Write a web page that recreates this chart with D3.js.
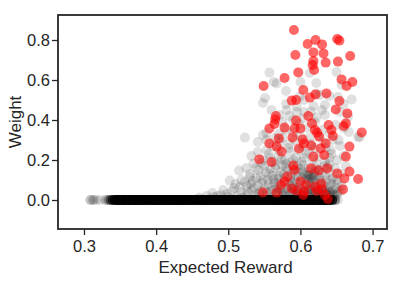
<!DOCTYPE html>
<html><head><meta charset="utf-8">
<script src="https://cdn.jsdelivr.net/npm/d3@7"></script>
<style>body{margin:0;background:#fff}svg{display:block}text{font-family:"Liberation Sans",Arial,sans-serif;fill:#262626}</style>
</head><body><svg id="c" width="407" height="284"></svg>
<script>
const xTicks = [0.3, 0.4, 0.5, 0.6, 0.7];
const yTicks = [0.0, 0.2, 0.4, 0.6, 0.8];
const xLabel = "Expected Reward";
const yLabel = "Weight";

// near-zero weights: x position and number of overlapping points
const bandX = [0.309,0.313,0.317,0.322,0.330,0.334,0.337,0.340,0.343,0.346,0.350,0.355,0.360,0.365,0.370,0.375,0.380,0.385,0.390,0.395,0.400,0.405,0.410,0.415,0.420,0.425,0.430,0.435,0.440,0.445,0.450,0.455,0.460,0.465,0.470,0.475,0.480,0.485,0.490,0.495,0.500,0.505,0.510,0.515,0.520,0.525,0.530,0.535,0.540,0.545,0.550,0.555,0.560,0.565,0.570,0.575,0.580,0.585,0.590,0.595,0.600,0.605,0.610,0.615,0.620,0.625,0.630,0.635,0.640,0.644,0.648,0.652];
const bandN = [2,2,1,1,2,3,5,8,12,16,22,25,25,25,25,25,25,25,25,25,25,25,25,25,25,25,25,25,25,25,25,25,25,25,25,25,25,25,25,25,25,25,25,25,25,25,25,25,25,25,25,25,25,25,25,25,25,25,25,25,25,25,25,25,25,25,25,25,18,10,4,1];

// other (grey) points: [expected reward, weight]
const greyPts = [
[0.557,0.637],[0.563,0.59],[0.567,0.583],[0.58,0.545],[0.551,0.51],[0.548,0.485],[0.60,0.59],[0.613,0.635],[0.622,0.585],[0.627,0.525],[0.65,0.64],[0.657,0.575],[0.671,0.503],[0.652,0.515],[0.599,0.517],[0.622,0.533],[0.634,0.475],[0.63,0.45],[0.56,0.45],[0.581,0.45],[0.595,0.467],[0.595,0.44],[0.571,0.425],[0.615,0.442],[0.622,0.413],[0.604,0.408],[0.634,0.425],[0.641,0.333],[0.649,0.375],[0.666,0.417],[0.68,0.317],[0.682,0.313],[0.523,0.312],[0.541,0.29],[0.553,0.335],[0.548,0.325],[0.585,0.42],[0.59,0.40],[0.575,0.39],[0.598,0.38],[0.61,0.36],[0.58,0.35],[0.57,0.33],[0.645,0.30],[0.655,0.27],[0.66,0.36],[0.667,0.34],[0.618,0.47],[0.605,0.5],[0.64,0.52],[0.66,0.48],
[0.553,0.30],[0.562,0.27],[0.572,0.29],[0.583,0.26],[0.592,0.30],[0.603,0.27],[0.612,0.31],[0.62,0.26],[0.632,0.29],[0.642,0.25],[0.653,0.30],[0.575,0.31],[0.598,0.25],[0.625,0.32],
[0.532,0.22],[0.541,0.24],[0.548,0.2],[0.556,0.23],[0.563,0.19],[0.57,0.22],[0.578,0.2],[0.586,0.24],[0.594,0.21],[0.601,0.19],[0.608,0.23],[0.617,0.2],[0.626,0.22],[0.634,0.19],[0.643,0.23],[0.651,0.2],[0.66,0.22],[0.553,0.25],[0.58,0.18],[0.612,0.24],[0.64,0.21],
[0.515,0.147],[0.525,0.16],[0.535,0.183],[0.53,0.13],[0.542,0.15],[0.55,0.17],[0.557,0.13],[0.565,0.16],[0.572,0.14],[0.58,0.16],[0.588,0.13],[0.596,0.17],[0.603,0.14],[0.611,0.16],[0.618,0.13],[0.626,0.15],[0.633,0.17],[0.641,0.14],[0.648,0.16],[0.656,0.13],[0.663,0.17],[0.545,0.12],[0.575,0.175],[0.59,0.155],[0.612,0.125],[0.615,0.115],[0.608,0.12],[0.62,0.12],
[0.502,0.097],[0.51,0.08],[0.518,0.1],[0.526,0.07],[0.534,0.095],[0.541,0.075],[0.548,0.1],[0.556,0.08],[0.563,0.105],[0.57,0.085],[0.578,0.11],[0.585,0.075],[0.592,0.1],[0.6,0.08],[0.607,0.105],[0.614,0.085],[0.621,0.1],[0.628,0.075],[0.636,0.095],[0.643,0.08],[0.65,0.1],[0.657,0.07],[0.53,0.115],[0.56,0.065],[0.59,0.065],[0.62,0.065],[0.64,0.065],[0.645,0.11],
[0.47,0.02],[0.478,0.035],[0.485,0.02],[0.493,0.05],[0.498,0.03],[0.505,0.045],[0.512,0.02],[0.518,0.04],[0.525,0.025],[0.532,0.05],[0.538,0.03],[0.545,0.045],[0.552,0.02],[0.558,0.04],[0.565,0.025],[0.571,0.05],[0.577,0.03],[0.584,0.045],[0.59,0.02],[0.596,0.04],[0.603,0.025],[0.609,0.05],[0.615,0.03],[0.621,0.045],[0.627,0.02],[0.633,0.04],[0.639,0.025],[0.645,0.05],[0.651,0.03],[0.656,0.045],[0.58,0.015],[0.6,0.012],[0.62,0.015],[0.64,0.012],[0.61,0.035],[0.63,0.055],[0.59,0.055],[0.57,0.035],[0.55,0.055],[0.64,0.035],[0.648,0.02],
[0.60,0.03],[0.61,0.02],[0.62,0.03],[0.63,0.025],[0.635,0.045],[0.625,0.04],[0.615,0.05],[0.605,0.045],[0.595,0.03],[0.585,0.03],[0.642,0.04],[0.646,0.03],
[0.558,0.21],[0.566,0.175],[0.574,0.205],[0.583,0.15],[0.587,0.19],[0.597,0.14],[0.604,0.175],[0.613,0.145],[0.622,0.18],[0.63,0.135],[0.638,0.165],[0.546,0.185],[0.538,0.16],[0.552,0.14],[0.561,0.12],[0.569,0.105],[0.577,0.13],[0.586,0.11],[0.594,0.12],[0.602,0.11],[0.61,0.1],[0.618,0.09],[0.626,0.11],[0.634,0.12],[0.642,0.1],[0.652,0.085],[0.523,0.09],[0.531,0.08],[0.539,0.11],[0.547,0.085],[0.555,0.1],[0.564,0.085],[0.573,0.06],[0.582,0.09],[0.598,0.06],[0.606,0.065],[0.614,0.07],[0.624,0.055],[0.632,0.07],[0.638,0.05],[0.649,0.06],
[0.508,0.06],[0.516,0.065],[0.527,0.04],[0.535,0.06],[0.543,0.035],[0.553,0.04],[0.562,0.05],[0.568,0.06],[0.575,0.045],[0.582,0.06],[0.588,0.04],[0.597,0.05],[0.606,0.035],[0.612,0.055],[0.619,0.04],[0.628,0.035],[0.636,0.03],[0.644,0.02],[0.652,0.04],[0.49,0.025],[0.48,0.015],[0.5,0.015],[0.46,0.012],[0.52,0.012],[0.54,0.015],[0.56,0.015],[0.575,0.02],[0.595,0.02],[0.612,0.012],[0.63,0.012],[0.622,0.02],[0.603,0.015],
[0.61,0.125],[0.617,0.11],[0.605,0.13],[0.613,0.105],[0.62,0.14],[0.595,0.09],[0.628,0.095],[0.588,0.085],[0.57,0.12],[0.558,0.155],[0.6,0.155],[0.622,0.155],[0.64,0.18],[0.59,0.2],[0.605,0.21],[0.57,0.25],[0.585,0.28],[0.615,0.28],[0.635,0.26],[0.6,0.32],[0.565,0.31],[0.59,0.34],[0.63,0.35],[0.62,0.39],[0.605,0.44],[0.58,0.48],[0.655,0.44]
];

// highlighted (red) points: [expected reward, weight]
const redPts = [
[0.591,0.85],[0.593,0.725],[0.610,0.78],[0.621,0.80],[0.630,0.778],[0.618,0.738],[0.618,0.695],[0.617,0.675],[0.619,0.65],[0.632,0.733],[0.635,0.687],[0.651,0.805],[0.654,0.797],[0.652,0.692],[0.669,0.72],
[0.597,0.638],[0.578,0.61],[0.549,0.57],[0.604,0.55],[0.657,0.603],[0.664,0.57],[0.672,0.59],[0.588,0.497],[0.594,0.50],[0.613,0.512],[0.621,0.528],[0.636,0.533],[0.654,0.495],[0.649,0.453],[0.665,0.433],
[0.566,0.42],[0.565,0.403],[0.564,0.38],[0.557,0.358],[0.578,0.362],[0.594,0.397],[0.592,0.358],[0.600,0.358],[0.611,0.42],[0.616,0.383],[0.620,0.35],[0.623,0.337],[0.626,0.317],[0.639,0.375],[0.643,0.35],[0.645,0.32],[0.660,0.37],[0.663,0.383],[0.685,0.338],
[0.557,0.283],[0.570,0.308],[0.567,0.267],[0.574,0.242],[0.589,0.313],[0.603,0.303],[0.605,0.283],[0.598,0.258],[0.615,0.272],[0.628,0.258],[0.635,0.283],[0.633,0.225],[0.618,0.217],[0.668,0.267],[0.663,0.217],
[0.543,0.203],[0.560,0.19],[0.590,0.172],[0.592,0.15],[0.615,0.158],[0.625,0.147],[0.637,0.158],[0.651,0.133],[0.668,0.142],[0.661,0.108],[0.680,0.105],[0.582,0.117],[0.578,0.092],[0.573,0.075],[0.600,0.092],[0.608,0.075],[0.629,0.083],
[0.567,0.037],[0.548,0.038],[0.588,0.058],[0.595,0.047],[0.605,0.042],[0.604,0.025],[0.623,0.045],[0.634,0.025],[0.638,0.005],[0.659,0.053],[0.620,0.067],[0.630,0.053]
];

const svg = d3.select("#c");
const L = 58, R = 387, T = 15, B = 229;
const x = d3.scaleLinear().domain([0.264, 0.72]).range([L, R]);
const y = d3.scaleLinear().domain([-0.145, 0.925]).range([B, T]);
const r = 5;

const band = [];
bandX.forEach((bx, i) => { for (let k = 0; k < bandN[i]; k++) band.push([bx, 0]); });
const gP = svg.append("g");
gP.selectAll("circle.b").data(band).join("circle").attr("class","b")
  .attr("cx", d => x(d[0])).attr("cy", d => y(d[1])).attr("r", r)
  .attr("fill", "#000").attr("fill-opacity", 0.12);
gP.selectAll("circle.g").data(greyPts).join("circle").attr("class","g")
  .attr("cx", d => x(d[0])).attr("cy", d => y(d[1])).attr("r", r)
  .attr("fill", "#000").attr("fill-opacity", 0.12);
gP.selectAll("circle.r").data(redPts).join("circle").attr("class","r")
  .attr("cx", d => x(d[0])).attr("cy", d => y(d[1])).attr("r", r)
  .attr("fill", "#ff0000").attr("fill-opacity", 0.6);

const fmt = d3.format(".1f");
const xa = svg.append("g").attr("transform", `translate(0,${B})`)
  .call(d3.axisBottom(x).tickValues(xTicks).tickFormat(fmt).tickSize(6).tickSizeOuter(0).tickPadding(5));
const ya = svg.append("g").attr("transform", `translate(${L},0)`)
  .call(d3.axisLeft(y).tickValues(yTicks).tickFormat(fmt).tickSize(6).tickSizeOuter(0).tickPadding(2));
[xa, ya].forEach(a => {
  a.select(".domain").remove();
  a.selectAll(".tick line").attr("stroke", "#262626").attr("stroke-width", 1.3);
  a.selectAll(".tick text").attr("fill", "#262626").style("font-size", "16.5px")
   .style("font-family", '"Liberation Sans", Arial, sans-serif');
});

svg.append("rect").attr("x", L).attr("y", T).attr("width", R - L).attr("height", B - T)
  .attr("fill", "none").attr("stroke", "#262626").attr("stroke-width", 1.8);

svg.append("text").attr("x", (L + R) / 2 + 3).attr("y", 273).attr("text-anchor", "middle")
  .style("font-size", "17px").text(xLabel);
svg.append("text").attr("transform", `translate(21,${(T + B) / 2}) rotate(-90)`)
  .attr("text-anchor", "middle").style("font-size", "17px").text(yLabel);
</script></body></html>
